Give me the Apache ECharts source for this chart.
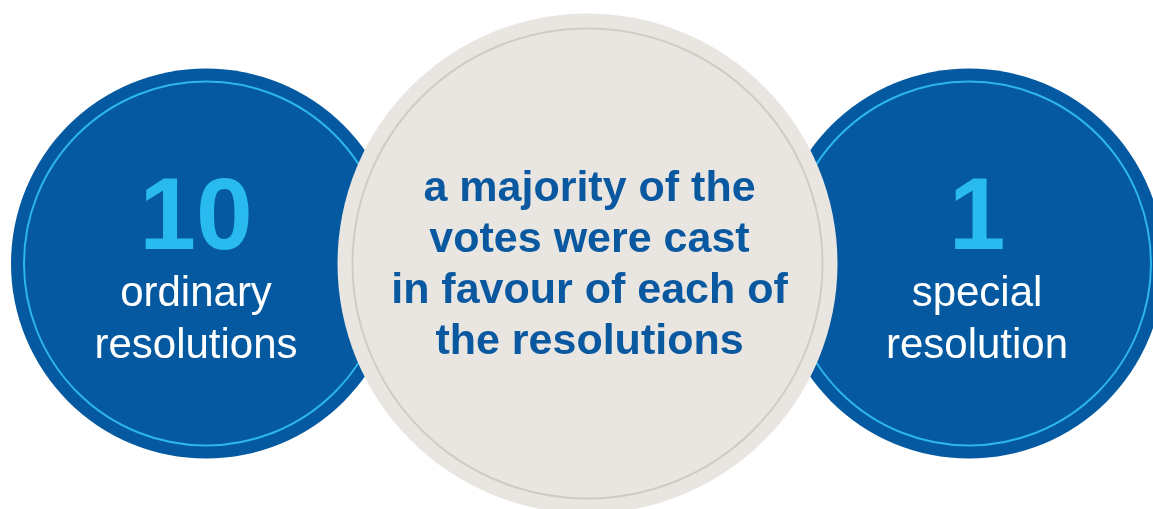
<!DOCTYPE html>
<html><head><meta charset="utf-8">
<script src="https://cdn.jsdelivr.net/npm/echarts@6/dist/echarts.min.js"></script>
<style>html,body{margin:0;padding:0;background:#fff}#c{width:1153px;height:509px}</style>
</head><body><div id="c"></div>
<script>
// ---- data ----
const categories = ['ordinary', 'majority', 'special'];
const countCategories = ['ordinary', 'special'];
const counts = [10, 1];
const captions = [['ordinary', 'resolutions'], ['special', 'resolution']];
const statementCategory = ['majority'];
const statementLines = ['a majority of the', 'votes were cast', 'in favour of each of', 'the resolutions'];
const rows = ['all'];

// ---- styles ----
const FONT = '"Liberation Sans", Arial, sans-serif';
const DARK_BLUE = '#0459a0';
const LIGHT_BLUE = '#29baef';
const RING_BLUE = '#2cb6ea';
const BEIGE = '#e9e6e2';
const BEIGE_RING = '#d3cbc2';
const TEXT_BLUE = '#0a59a0';
const blueOffsets = [[-10, 9], [8, 9]];

const chart = echarts.init(document.getElementById('c'), null, { renderer: 'canvas' });

const countData = countCategories.map((c, i) => ({
  value: [c, rows[0]],
  label: {
    offset: blueOffsets[i],
    formatter: '{n|' + counts[i] + '}\n{t|' + captions[i][0] + '}\n{t|' + captions[i][1] + '}'
  }
}));

const option = {
  animation: false,
  backgroundColor: '#ffffff',
  grid: { left: 15.25, width: 1144.5, top: 18, height: 491, containLabel: false, outerBoundsMode: 'none' },
  xAxis: { type: 'category', data: categories, boundaryGap: true, show: false },
  yAxis: { type: 'category', data: rows, show: false },
  series: [
    {
      type: 'scatter', z: 1, silent: true,
      symbolSize: 390,
      itemStyle: { color: DARK_BLUE, opacity: 1 },
      data: countCategories.map(c => [c, rows[0]])
    },
    {
      type: 'scatter', z: 2, silent: true,
      symbolSize: 364,
      itemStyle: { color: 'rgba(0,0,0,0)', borderColor: RING_BLUE, borderWidth: 2, opacity: 1 },
      label: {
        show: true, position: 'inside', align: 'center',
        rich: {
          n: { fontFamily: FONT, fontWeight: 'bold', fontSize: 102, color: LIGHT_BLUE, lineHeight: 95, align: 'center' },
          t: { fontFamily: FONT, fontSize: 42, color: '#ffffff', lineHeight: 52, align: 'center' }
        }
      },
      data: countData
    },
    {
      type: 'scatter', z: 3, silent: true,
      symbolSize: 500,
      itemStyle: { color: BEIGE, opacity: 1 },
      data: statementCategory.map(c => [c, rows[0]])
    },
    {
      type: 'scatter', z: 4, silent: true,
      symbolSize: 470,
      itemStyle: { color: 'rgba(0,0,0,0)', borderColor: BEIGE_RING, borderWidth: 2, opacity: 1 },
      label: {
        show: true, position: 'inside', align: 'center', offset: [2, 2],
        fontFamily: FONT, fontWeight: 'bold', fontSize: 43, lineHeight: 51, color: TEXT_BLUE,
        formatter: () => statementLines.join('\n')
      },
      data: statementCategory.map(c => [c, rows[0]])
    }
  ]
};
chart.setOption(option);
</script>
</body></html>
